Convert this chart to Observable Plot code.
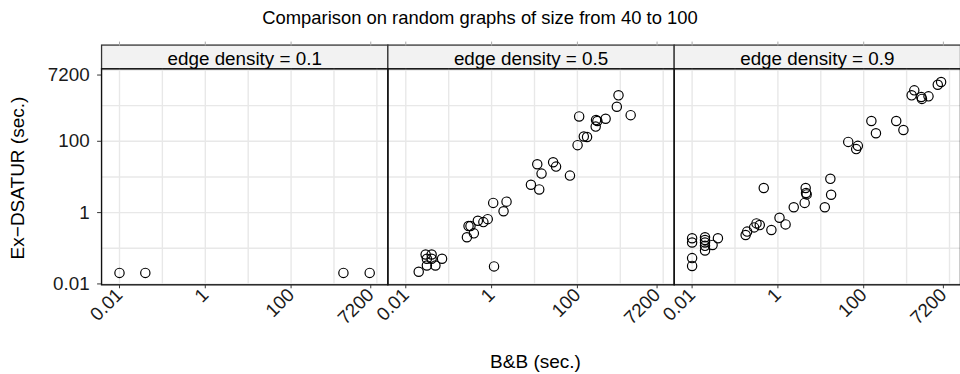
<!DOCTYPE html>
<html><head><meta charset="utf-8">
<script src="https://cdn.jsdelivr.net/npm/d3@7"></script>
<script src="https://cdn.jsdelivr.net/npm/@observablehq/plot@0.6"></script>
<style>
html,body{margin:0;padding:0;background:#fff;overflow:hidden;width:960px;height:374px;}
#wrap{position:relative;width:960px;height:374px;overflow:hidden;font-family:"Liberation Sans",Arial,Helvetica,sans-serif;color:#000;}
#title{position:absolute;left:0;top:6px;width:960px;text-align:center;font-size:18.4px;line-height:24px;}
#xt{position:absolute;left:102px;width:867px;top:350px;text-align:center;font-size:19px;line-height:24px;}
#yt{position:absolute;left:18px;top:178px;transform:translate(-50%,-50%) rotate(-90deg);font-size:19px;line-height:24px;white-space:nowrap;}
#chart{position:absolute;left:0;top:0;}
</style></head>
<body>
<div id="wrap">
  <div id="chart"></div>
  <div id="title">Comparison on random graphs of size from 40 to 100</div>
  <div id="xt">B&amp;B (sec.)</div>
  <div id="yt">Ex−DSATUR (sec.)</div>
</div>
<script>
// facets
const densities = [0.1, 0.5, 0.9];
const stripPrefix = "edge density = ";

// axis ticks and grid
const tickValues = [0.01, 1, 100, 7200];
const tickLabels = ["0.01", "1", "100", "7200"];
const gridValues = [0.01, 0.1, 1, 10, 100, 1000, 10000];

// edge density = 0.1
const bb01 = [0.01, 0.04, 1660, 6800];
const ex01 = [0.0204, 0.0204, 0.0204, 0.0204];

// edge density = 0.5
const bb05 = [908, 830, 1746, 110, 272, 292, 455, 267, 141, 168, 101,
  11.6, 27.2, 31.8, 14.6, 67.1, 8.26, 12.9, 1.09, 2.23, 1.90,
  0.478, 0.643, 0.813, 0.290, 0.322, 0.386, 0.266,
  0.029, 0.040, 0.031, 0.040, 0.070, 0.031, 0.049, 0.020, 1.14];
const ex05 = [1945, 927, 541, 498, 393, 369, 430, 258, 136, 132, 78,
  22.7, 25.8, 19.5, 12.4, 10.9, 6.04, 4.47, 1.87, 2.03, 1.09,
  0.592, 0.541, 0.656, 0.419, 0.419, 0.262, 0.203,
  0.067, 0.067, 0.051, 0.051, 0.051, 0.033, 0.033, 0.022, 0.031];

// edge density = 0.9
const bb09 = [6370, 5330, 1510, 1310, 2200, 2280, 3240, 151, 573, 193, 843,
  43.6, 73.1, 66.8, 16.7, 0.468, 4.44, 4.53, 4.68, 17.4, 4.21, 2.34, 12.4,
  1.09, 1.51, 0.705, 0.317, 0.378, 0.279, 0.192, 0.177,
  0.01, 0.01, 0.02, 0.02, 0.02, 0.02, 0.02, 0.030, 0.040, 0.01, 0.01];
const ex09 = [4580, 3850, 2680, 1945, 1750, 1545, 1820, 369, 369, 168, 207,
  96.2, 74.5, 60.4, 8.85, 4.89, 4.89, 3.55, 3.24, 3.18, 1.87, 1.41, 1.41,
  0.718, 0.467, 0.324, 0.498, 0.447, 0.385, 0.293, 0.236,
  0.191, 0.145, 0.203, 0.171, 0.145, 0.117, 0.087, 0.124, 0.191, 0.053, 0.032];

const series = [[bb01, ex01], [bb05, ex05], [bb09, ex09]];
const data = series.flatMap(([bb, ex], i) =>
  bb.map((v, j) => ({density: densities[i], bb: v, ex: ex[j]})));

const fmt = d => tickLabels[tickValues.indexOf(d)];

const chart = Plot.plot({
  width: 969,
  height: 374,
  marginLeft: 102,
  marginRight: 0,
  marginTop: 69,
  marginBottom: 87,
  style: {fontFamily: '"Liberation Sans", Arial, Helvetica, sans-serif', fontSize: "19px", color: "#1a1a1a", background: "transparent", overflow: "visible"},
  fx: {domain: densities, padding: 0, label: null},
  x: {type: "log", domain: [0.00382, 18030], label: null},
  y: {type: "log", domain: [0.00944, 10740], label: null},
  marks: [
    Plot.frame({fill: "#f2f2f2", stroke: "#333", strokeWidth: 1.3, insetTop: -24, insetBottom: 218}),
    Plot.ruleX(gridValues, {stroke: "#e8e8e8", strokeWidth: 1.4}),
    Plot.ruleY(gridValues, {stroke: "#e8e8e8", strokeWidth: 1.4}),
    Plot.dot(data, {x: "bb", y: "ex", fx: "density", r: 4.7, stroke: "#000", strokeWidth: 1.2, fill: "none"}),
    Plot.frame({stroke: "#111", strokeWidth: 1.4}),
    Plot.axisX(tickValues, {anchor: "bottom", tickSize: 4, tickPadding: 3, tickRotate: -45, text: fmt, label: null, stroke: "#333"}),
    Plot.axisX(tickValues, {anchor: "top", tickSize: 4, text: () => "", dy: -24, stroke: "#aaa", label: null}),
    Plot.axisY(tickValues, {anchor: "left", tickSize: 4, tickPadding: 8, text: fmt, label: null, stroke: "#333"}),
    Plot.axisFx({anchor: "top", tickSize: 0, tickPadding: 4, tickFormat: d => stripPrefix + d, label: null, fill: "#000"})
  ]
});
document.getElementById("chart").appendChild(chart);
</script>
</body></html>
